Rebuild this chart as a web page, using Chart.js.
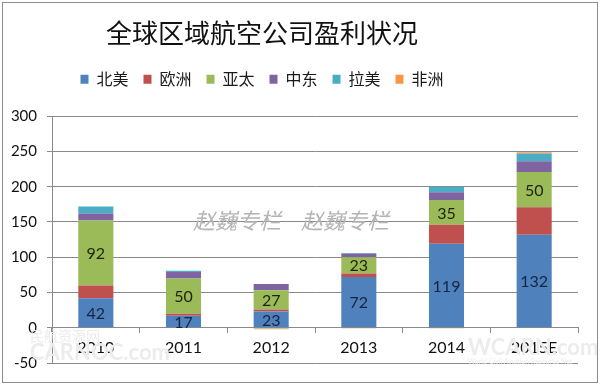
<!DOCTYPE html>
<html>
<head>
<meta charset="utf-8">
<script src="https://cdn.jsdelivr.net/npm/chart.js"></script>
<style>
  html, body { margin: 0; padding: 0; background: #fff; }
  #wrap { width: 600px; height: 385px; }
</style>
</head>
<body>
<div id="wrap"><canvas id="myChart"></canvas></div>
<script>
// profit by region (labels on blue + green bars are exact)
const years = ['2010', '2011', '2012', '2013', '2014', '2015E'];
const northAmerica = [42, 17, 23, 72, 119, 132];
const europe = [18, 3, 3, 5, 27, 39];
const asiaPacific = [92, 50, 27, 23, 35, 50];
const middleEast = [10, 9, 9, 5, 11, 15];
const latinAmerica = [10, 2, -1, 1, 8, 11];
const africa = [0, 0, -1, -1, -1, 2];
const yTicks = [300, 250, 200, 150, 100, 50, 0, -50];

const cjk = '"Noto Sans CJK SC", "Noto Sans", sans-serif';
const num = 'Lato, "Liberation Sans", sans-serif';
const gridColor = '#8a8a8a';

const ctx = document.getElementById('myChart');

// extra room under the legend and shift title/legend a bit left like excel did
const layoutTweaks = {
  id: 'layoutTweaks',
  beforeInit(chart) {
    const fit = chart.legend.fit;
    chart.legend.fit = function () {
      fit.bind(chart.legend)();
      this.height += 19;
    };
  },
  afterLayout(chart) {
    [chart.titleBlock, chart.legend].forEach(function (b) {
      if (b) { b.left = 0; b.right = 524; }
    });
  }
};

// numbers inside the blue and green segments
const valueLabels = {
  id: 'valueLabels',
  afterDatasetsDraw(chart) {
    const c = chart.ctx;
    c.save();
    c.font = '16px ' + num;
    c.textAlign = 'center';
    c.textBaseline = 'middle';
    [[0, '#16243f'], [2, '#1f220c']].forEach(function (d) {
      const meta = chart.getDatasetMeta(d[0]);
      const vals = chart.data.datasets[d[0]].data;
      meta.data.forEach(function (el, i) {
        c.fillStyle = d[1];
        c.fillText(vals[i], el.x, (el.y + el.base) / 2 + 1);
      });
    });
    c.restore();
  }
};

// watermarks + outer frame
const decor = {
  id: 'decor',
  beforeDatasetsDraw(chart) {
    const c = chart.ctx;
    c.save();
    c.fillStyle = '#b4b4b4';
    c.font = 'italic 22px ' + cjk;
    c.textBaseline = 'middle';
    c.fillText('赵巍专栏', 193, 221);
    c.fillText('赵巍专栏', 301, 221);
    c.fillStyle = '#ececec';
    c.font = '14px ' + cjk;
    c.fillText('民航资源网', 30, 336);
    c.font = 'bold 22px ' + num;
    c.fillText('CARNOC.com', 30, 353);
    c.fillText('WCARN.com', 468, 348);
    c.font = '7px ' + num;
    c.fillText('World Civil Aviation Resource Net', 468, 362);
    c.restore();
  },
  afterDraw(chart) {
    const c = chart.ctx;
    c.save();
    c.strokeStyle = '#8c8c8c';
    c.lineWidth = 1;
    c.strokeRect(2.5, 2.5, 595, 380);
    c.restore();
  }
};

new Chart(ctx, {
  type: 'bar',
  data: {
    labels: years,
    datasets: [
      { label: '北美', data: northAmerica, backgroundColor: '#4f81bd' },
      { label: '欧洲', data: europe, backgroundColor: '#c0504d' },
      { label: '亚太', data: asiaPacific, backgroundColor: '#9bbb59' },
      { label: '中东', data: middleEast, backgroundColor: '#8064a2' },
      { label: '拉美', data: latinAmerica, backgroundColor: '#4bacc6' },
      { label: '非洲', data: africa, backgroundColor: '#f79646' }
    ]
  },
  options: {
    responsive: true,
    maintainAspectRatio: false,
    animation: false,
    barPercentage: 0.4,
    categoryPercentage: 1,
    layout: { padding: { top: 0, left: 0, right: 22, bottom: 22 } },
    plugins: {
      title: {
        display: true,
        text: '全球区域航空公司盈利状况',
        color: '#111',
        font: { size: 26, family: cjk, weight: 'normal' },
        padding: { top: 18, bottom: 7 }
      },
      legend: {
        labels: {
          boxWidth: 8,
          boxHeight: 9,
          padding: 15,
          color: '#1a1a1a',
          font: { size: 16, family: cjk }
        }
      },
      tooltip: { enabled: false }
    },
    scales: {
      x: {
        stacked: true,
        position: { y: 0 },
        grid: {
          offset: true,
          drawOnChartArea: false,
          drawTicks: true,
          tickLength: 5,
          color: gridColor
        },
        border: { display: true, color: gridColor },
        ticks: {
          color: '#111',
          padding: 6,
          font: { size: 16, family: num }
        }
      },
      y: {
        stacked: true,
        min: -50,
        max: 300,
        afterFit: function (s) { s.width = 52; },
        afterBuildTicks: function (s) {
          s.ticks = yTicks.map(function (v) { return { value: v }; });
        },
        grid: { color: gridColor, tickLength: 5 },
        border: { color: gridColor },
        ticks: {
          color: '#111',
          padding: 10,
          font: { size: 15, family: num }
        }
      }
    }
  },
  plugins: [layoutTweaks, valueLabels, decor]
});
</script>
</body>
</html>
